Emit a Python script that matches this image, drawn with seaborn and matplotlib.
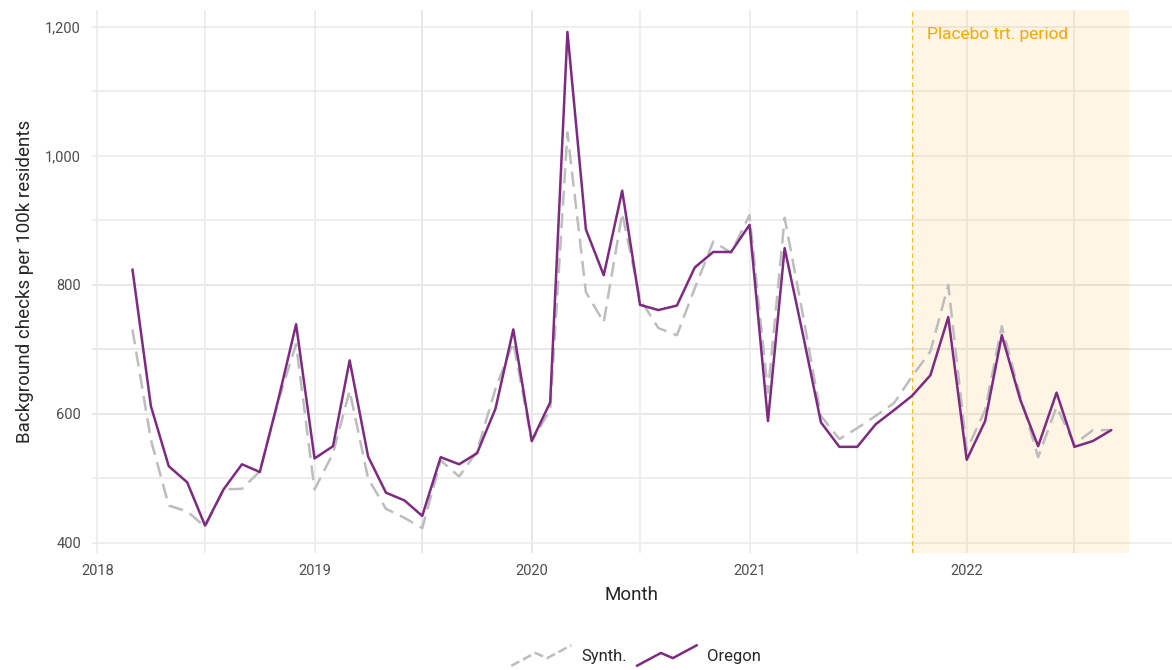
import pandas as pd
import numpy as np
import matplotlib
matplotlib.use('Agg')
import matplotlib.pyplot as plt
import matplotlib.dates as mdates
import seaborn as sns
from matplotlib.lines import Line2D
from matplotlib.legend_handler import HandlerBase

# 資料：每月背景調查數（每十萬居民）
months = pd.date_range('2018-03-01', '2022-09-01', freq='MS')

oregon = [
    824, 612, 519, 494, 427, 483, 522, 510, 622, 739,
    531, 550, 683, 534, 478, 466, 442, 533, 522, 539, 608, 731,
    558, 618, 1192, 886, 815, 946, 769, 761, 768, 827, 851, 851,
    893, 589, 857, 722, 587, 549, 549, 584, 606, 628, 660, 750,
    529, 589, 722, 622, 550, 633, 549, 558, 575,
]
synth = [
    731, 560, 458, 449, 425, 483, 484, 511, 620, 708,
    483, 539, 636, 500, 453, 439, 423, 528, 503, 542, 639, 711,
    558, 606, 1036, 789, 742, 911, 778, 733, 722, 795, 867, 850,
    908, 633, 904, 752, 597, 561, 578, 597, 617, 658, 697, 800,
    544, 606, 736, 628, 533, 611, 553, 575, 575,
]
placebo_start = pd.Timestamp('2021-10-01')
placebo_end = pd.Timestamp('2022-10-01')

df = pd.DataFrame({
    'month': np.concatenate([months, months]),
    'value': synth + oregon,
    'series': ['Synth.'] * len(months) + ['Oregon'] * len(months),
})

purple = '#7F2A82'
grey = '#BDBDBD'
orange = '#FFA500'

sns.set_theme(style='white')
plt.rcParams['font.family'] = ['Roboto', 'DejaVu Sans']

fig = plt.figure(figsize=(11.72, 6.70), dpi=100)
ax = fig.add_axes([92 / 1172, 1 - 553 / 670, 1 - 92 / 1172, (553 - 10) / 670])

# ========== 格線 ==========
ax.set_xlim(pd.Timestamp('2017-12-23'), pd.Timestamp('2022-12-12'))
ax.set_ylim(384.5, 1226)
ax.set_yticks([400, 600, 800, 1000, 1200])
ax.set_yticks([500, 700, 900, 1100], minor=True)
ax.xaxis.set_major_locator(mdates.YearLocator())
ax.xaxis.set_minor_locator(mdates.MonthLocator(bymonth=7))
ax.xaxis.set_major_formatter(mdates.DateFormatter('%Y'))
ax.yaxis.set_major_formatter(matplotlib.ticker.FuncFormatter(lambda v, p: f'{int(v):,}'))
ax.grid(True, which='both', color='#EBEBEB', lw=1.2, zorder=0)
for v in [600, 700, 800]:
    ax.axhline(v, color='#D0D0D0', lw=1.2, zorder=0.5)
for d in ['2019-07-01', '2020-01-01']:
    ax.axvline(pd.Timestamp(d), color='#D0D0D0', lw=1.2, zorder=0.5)
for s in ax.spines.values():
    s.set_visible(False)
ax.tick_params(axis='both', which='both', length=5, width=1.2, color='#EBEBEB',
               labelsize=10.5, labelcolor='#4D4D4D', pad=3)
ax.tick_params(axis='both', which='minor', labelleft=False, labelbottom=False)

# ========== 安慰劑期間 ==========
ax.axvspan(placebo_start, placebo_end, color=orange, alpha=0.1, lw=0, zorder=1)
ax.axvline(placebo_start, color=orange, lw=0.8, ls=(0, (4, 3)), alpha=0.8, zorder=1.5)
ax.annotate('Placebo trt. period', xy=(placebo_start, 1188), xytext=(15, 0),
            textcoords='offset pixels', color=orange, fontsize=12.5, va='center', ha='left')

# ========== 折線 ==========
sns.lineplot(data=df, x='month', y='value', hue='series', style='series',
             palette={'Synth.': grey, 'Oregon': purple},
             dashes={'Synth.': (6, 3), 'Oregon': ''},
             linewidth=1.8, legend=False, ax=ax, zorder=3)

ax.set_xlabel('Month', fontsize=13.5, labelpad=6)
ax.set_ylabel('Background checks per 100k residents', fontsize=13.5, labelpad=8)


# 圖例用的鋸齒線
class ZigzagHandler(HandlerBase):
    def create_artists(self, legend, orig_handle, xdescent, ydescent, width, height, fontsize, trans):
        xs = np.array([0, 0.4, 0.6, 1.0]) * width - xdescent
        ys = np.array([0.1, 0.6, 0.4, 0.9]) * height - ydescent
        line = Line2D(xs, ys, color=orig_handle.get_color(), lw=orig_handle.get_linewidth(),
                      linestyle=orig_handle.get_linestyle())
        line.set_transform(trans)
        return [line]


handles = [
    Line2D([], [], color=grey, lw=1.8, ls=(0, (6, 3))),
    Line2D([], [], color=purple, lw=1.8),
]
fig.legend(handles, ['Synth.', 'Oregon'], loc='lower center', bbox_to_anchor=(636 / 1172, -0.02),
           ncol=2, frameon=False, fontsize=12, handlelength=3.6, handleheight=2.0,
           handletextpad=0.6, columnspacing=0.6,
           handler_map={Line2D: ZigzagHandler()})

plt.savefig('out.png', dpi=100)
